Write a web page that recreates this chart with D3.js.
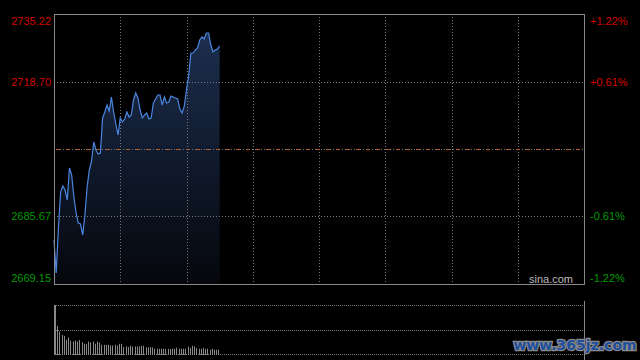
<!DOCTYPE html>
<html>
<head>
<meta charset="utf-8">
<script src="https://cdn.jsdelivr.net/npm/d3@7"></script>
<style>
  html, body { margin: 0; padding: 0; background: #000; }
  svg { display: block; }
</style>
</head>
<body>
<div id="main"></div>
<script>
// price per minute (index 0 = 9:30)
const prices = [
    2679.92, 2671.84, 2682.85, 2691.66, 2693.13, 2692.15, 2689.71, 2697.54, 2695.82, 2690.44,
    2686.52, 2684.08, 2683.83, 2681.14, 2686.04, 2692.89, 2697.05, 2699.25, 2703.90, 2701.94,
    2700.96, 2701.21, 2709.77, 2711.24, 2712.95, 2711.48, 2714.91, 2711.24, 2708.30, 2705.61,
    2709.77, 2708.79, 2709.53, 2711.24, 2710.02, 2710.51, 2714.18, 2715.89, 2714.67, 2711.73,
    2709.77, 2710.51, 2710.99, 2709.53, 2709.77, 2713.44, 2714.42, 2715.40, 2715.40, 2712.95,
    2714.91, 2713.44, 2713.69, 2715.15, 2714.91, 2714.67, 2714.42, 2711.97, 2710.99, 2712.71,
    2716.62, 2720.29, 2725.68, 2725.68, 2726.41, 2726.90, 2728.86, 2729.59, 2729.10, 2730.57,
    2730.57, 2727.63, 2725.92, 2726.41, 2726.66, 2727.39
];

// volume per minute (relative units)
const volumes = [
    149, 86, 68, 58, 55, 43, 50, 40, 38, 41,
    38, 43, 36, 31, 31, 38, 35, 38, 31, 38,
    35, 28, 28, 28, 28, 26, 26, 28, 26, 31,
    31, 21, 23, 21, 25, 23, 23, 23, 23, 25,
    25, 20, 20, 21, 20, 16, 16, 16, 16, 16,
    16, 16, 15, 16, 16, 19, 16, 16, 16, 16,
    23, 18, 25, 23, 18, 16, 16, 19, 15, 16,
    13, 16, 13, 13, 13
];

const priceTicks = [2735.22, 2718.70, 2685.67, 2669.15];
const pctTicks = ['+1.22%', '+0.61%', '-0.61%', '-1.22%'];
const preClose = 2702.185;
const minuteTicks = [30, 60, 90, 120, 150, 180, 210];

const W = 640, H = 360;
const plotLeft = 54, plotRight = 584, plotTop = 14, plotBottom = 284;
const vTop = 305, vBottom = 354;

const svg = d3.select('#main').append('svg')
    .attr('width', W)
    .attr('height', H);

svg.append('rect').attr('width', W).attr('height', H).attr('fill', '#000');

const x = d3.scaleLinear().domain([0, 240]).range([plotLeft, plotRight]);
const y = d3.scaleLinear().domain([2669.15, 2735.22]).range([plotBottom, plotTop]);
const yv = d3.scaleLinear().domain([0, d3.max(volumes)]).range([vBottom, vTop]);

// gradient for area
const defs = svg.append('defs');
const grad = defs.append('linearGradient')
    .attr('id', 'areaGrad')
    .attr('x1', 0).attr('y1', 0).attr('x2', 0).attr('y2', 1);
grad.append('stop').attr('offset', '0%').attr('stop-color', '#1c2e4e');
grad.append('stop').attr('offset', '100%').attr('stop-color', '#05070c');

// area + line
const area = d3.area()
    .x((d, i) => x(i))
    .y0(plotBottom)
    .y1(d => y(d));

const line = d3.line()
    .x((d, i) => x(i))
    .y(d => y(d));

svg.append('path')
    .datum(prices)
    .attr('d', area)
    .attr('fill', 'url(#areaGrad)');

// grid lines
const grid = svg.append('g');
grid.selectAll('.hgrid')
    .data([2718.70, 2685.67])
    .enter()
    .append('line')
    .attr('x1', plotLeft).attr('x2', plotRight)
    .attr('y1', d => Math.round(y(d)) + 0.5)
    .attr('y2', d => Math.round(y(d)) + 0.5)
    .attr('stroke', '#777')
    .attr('stroke-dasharray', '1,2');

grid.selectAll('.vgrid')
    .data(minuteTicks)
    .enter()
    .append('line')
    .attr('x1', d => Math.round(x(d)) + 0.5)
    .attr('x2', d => Math.round(x(d)) + 0.5)
    .attr('y1', plotTop).attr('y2', plotBottom)
    .attr('stroke', '#777')
    .attr('stroke-dasharray', '1,2');

// previous close line
const yc = Math.round(y(preClose)) + 0.5;
grid.append('line')
    .attr('x1', plotLeft).attr('x2', plotRight)
    .attr('y1', yc).attr('y2', yc)
    .attr('stroke', '#777')
    .attr('stroke-dasharray', '1,2');
grid.append('line')
    .attr('x1', plotLeft + 2).attr('x2', plotRight)
    .attr('y1', yc).attr('y2', yc)
    .attr('stroke', '#b0622c')
    .attr('stroke-dasharray', '4,6');

svg.append('path')
    .datum(prices)
    .attr('d', line)
    .attr('fill', 'none')
    .attr('stroke', '#4a86e0')
    .attr('stroke-width', 1.2);

// frame
svg.append('rect')
    .attr('x', plotLeft + 0.5).attr('y', plotTop + 0.5)
    .attr('width', plotRight - plotLeft).attr('height', plotBottom - plotTop)
    .attr('fill', 'none')
    .attr('stroke', '#888');

// left price labels
svg.selectAll('.plabel')
    .data(priceTicks)
    .enter()
    .append('text')
    .attr('x', 51)
    .attr('y', (d, i) => i === 0 ? 24.5 : i === 3 ? 282 : y(d) + 4)
    .attr('text-anchor', 'end')
    .attr('font-family', 'Liberation Sans, Arial, sans-serif')
    .attr('font-size', 11)
    .attr('fill', (d, i) => i < 2 ? '#d40000' : '#009a00')
    .text(d => d.toFixed(2));

// right pct labels
svg.selectAll('.rlabel')
    .data(pctTicks)
    .enter()
    .append('text')
    .attr('x', 590)
    .attr('y', (d, i) => i === 0 ? 24.5 : i === 3 ? 282 : y(priceTicks[i]) + 4)
    .attr('font-family', 'Liberation Sans, Arial, sans-serif')
    .attr('font-size', 11)
    .attr('fill', (d, i) => i < 2 ? '#d40000' : '#009a00')
    .text(d => d);

svg.append('text')
    .attr('x', 573)
    .attr('y', 282.5)
    .attr('text-anchor', 'end')
    .attr('font-family', 'Liberation Sans, Arial, sans-serif')
    .attr('font-size', 11)
    .attr('fill', '#bbb')
    .text('sina.com');

// volume panel
const vg = svg.append('g');
vg.selectAll('.vline')
    .data([vTop, (vTop + vBottom) / 2, vBottom])
    .enter()
    .append('line')
    .attr('x1', plotLeft).attr('x2', plotRight)
    .attr('y1', d => Math.round(d) + 0.5)
    .attr('y2', d => Math.round(d) + 0.5)
    .attr('stroke', '#777')
    .attr('stroke-dasharray', '1,1');

vg.append('line')
    .attr('x1', plotLeft + 0.5).attr('x2', plotLeft + 0.5)
    .attr('y1', vTop).attr('y2', vBottom)
    .attr('stroke', '#888');
vg.append('line')
    .attr('x1', plotRight + 0.5).attr('x2', plotRight + 0.5)
    .attr('y1', vTop - 4).attr('y2', H)
    .attr('stroke', '#888');

vg.selectAll('.vbar')
    .data(volumes)
    .enter()
    .append('rect')
    .attr('x', (d, i) => Math.round(x(i)) + 1)
    .attr('y', d => yv(d))
    .attr('width', 1)
    .attr('height', d => vBottom - yv(d) + 1)
    .attr('fill', '#8a8a8a');

// watermark
svg.append('text')
    .attr('x', 575)
    .attr('y', 350)
    .attr('text-anchor', 'middle')
    .attr('font-family', 'DejaVu Sans, sans-serif')
    .attr('font-weight', 'bold')
    .attr('font-size', 14)
    .attr('fill', '#1f4f9c')
    .attr('stroke', '#8a8a8a')
    .attr('stroke-width', 2.5)
    .attr('paint-order', 'stroke')
    .text('www.365jz.com');
</script>
</body>
</html>
